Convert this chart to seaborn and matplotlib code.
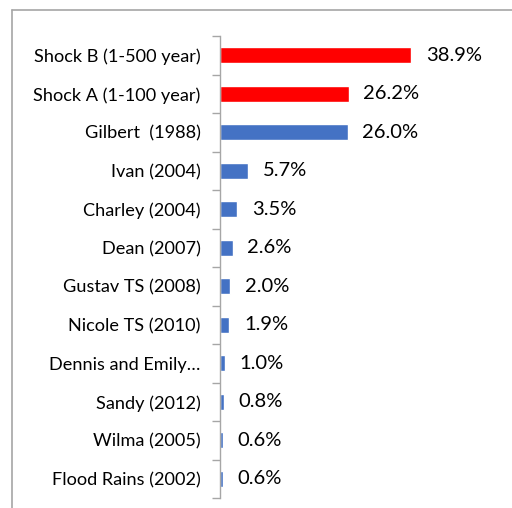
import matplotlib
matplotlib.use("Agg")
import matplotlib.pyplot as plt
import seaborn as sns
import pandas as pd
from matplotlib.lines import Line2D
from matplotlib.ticker import FixedLocator

categories = ["Shock B (1-500 year)", "Shock A (1-100 year)", "Gilbert  (1988)", "Ivan (2004)",
              "Charley (2004)", "Dean (2007)", "Gustav TS (2008)", "Nicole TS (2010)",
              "Dennis and Emily…", "Sandy (2012)", "Wilma (2005)", "Flood Rains (2002)"]
values = [38.9, 26.2, 26.0, 5.7, 3.5, 2.6, 2.0, 1.9, 1.0, 0.8, 0.6, 0.6]
groups = ["shock", "shock"] + ["hist"] * 10
palette = {"shock": "#FF0000", "hist": "#4472C4"}

df = pd.DataFrame({"cat": categories, "val": values, "grp": groups})

sns.set_theme(style="white")
plt.rcParams["font.family"] = ["Lato", "DejaVu Sans"]

fig = plt.figure(figsize=(5.12, 5.08), dpi=100)
W, H = 512, 508
left, right = 220 / W, 497 / W
top, bottom = 1 - 36 / H, 1 - 498 / H
ax = fig.add_axes([left, bottom, right - left, top - bottom])

sns.barplot(data=df, x="val", y="cat", hue="grp", palette=palette, dodge=False,
            width=0.42, legend=False, ax=ax, order=categories, saturation=1)

xmax = (497 - 220) / ((411 - 220) / 38.9)
ax.set_xlim(0, xmax)
ax.set_ylim(len(categories) - 0.5, -0.5)
ax.set_xlabel("")
ax.set_ylabel("")
ax.set_xticks([])

for s in ["top", "right", "bottom"]:
    ax.spines[s].set_visible(False)
ax.spines["left"].set_color("#A6A6A6")
ax.spines["left"].set_linewidth(1.0)

ax.tick_params(axis="y", which="major", length=0, pad=14, labelsize=13.1, labelcolor="#000000")
ax.yaxis.set_minor_locator(FixedLocator([i - 0.5 for i in range(len(categories) + 1)]))
ax.tick_params(axis="y", which="minor", left=True, length=6, width=1.0, color="#A6A6A6")

for i, v in enumerate(values):
    ax.text(v + 3.0, i, f"{v:.1f}%", va="center", ha="left", fontsize=14.5, color="#000000")

# chart border (cropped)
fig.add_artist(Line2D([11.5 / W, 11.5 / W], [0, 1 - 9.5 / H], color="#A6A6A6", lw=1.2, transform=fig.transFigure))
fig.add_artist(Line2D([11.5 / W, 1], [1 - 9.5 / H, 1 - 9.5 / H], color="#A6A6A6", lw=1.2, transform=fig.transFigure))

fig.savefig("out.png", dpi=100)
